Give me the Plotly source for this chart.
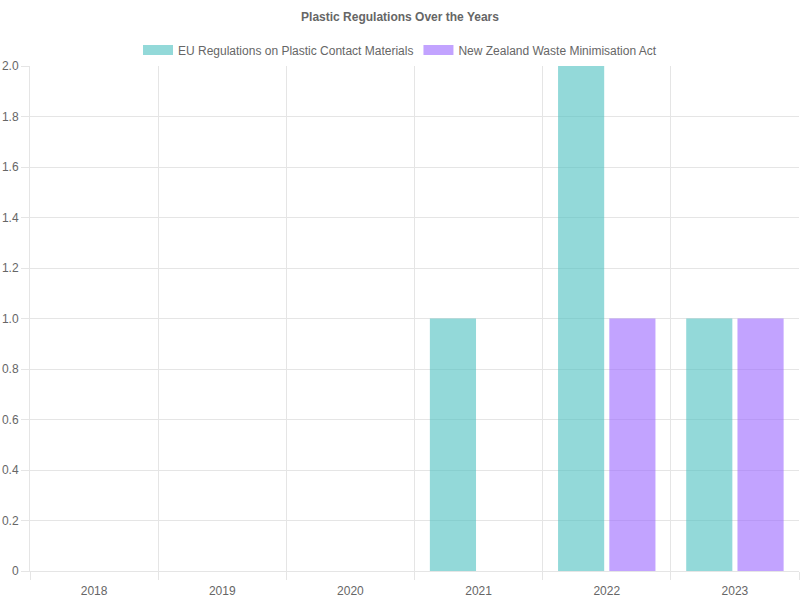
import plotly.graph_objects as go

years = ["2018", "2019", "2020", "2021", "2022", "2023"]
eu_values = [0, 0, 0, 1, 2, 1]
nz_values = [0, 0, 0, 0, 1, 1]
series_names = ["EU Regulations on Plastic Contact Materials", "New Zealand Waste Minimisation Act"]
y_tick_vals = [0, 0.2, 0.4, 0.6, 0.8, 1.0, 1.2, 1.4, 1.6, 1.8, 2.0]
y_tick_text = ["0", "0.2", "0.4", "0.6", "0.8", "1.0", "1.2", "1.4", "1.6", "1.8", "2.0"]

teal = "rgba(75,192,192,0.6)"
purple = "rgba(153,102,255,0.6)"
grid = "#e5e5e5"
font = "Liberation Sans, Arial, Helvetica, sans-serif"

fig = go.Figure()
for name, vals, col in [(series_names[0], eu_values, teal), (series_names[1], nz_values, purple)]:
    fig.add_trace(go.Bar(x=years, y=vals, name=name, legendgroup=name, showlegend=False,
                         marker=dict(color=col, line=dict(width=0))))
# legend swatches (wide boxes like the reference)
for name, col in [(series_names[0], teal), (series_names[1], purple)]:
    fig.add_trace(go.Scatter(x=[None], y=[None], mode="lines", name=name, legendgroup=name,
                             line=dict(color=col, width=12), showlegend=True))

fig.update_layout(
    width=800, height=600,
    paper_bgcolor="white", plot_bgcolor="white",
    margin=dict(l=30, r=1, t=66, b=29, autoexpand=False),
    barmode="group", bargap=0.2, bargroupgap=0.1,
    font=dict(family=font, size=12, color="#666"),
    title=dict(text="<b>Plastic Regulations Over the Years</b>", x=0.5, xref="container", xanchor="center",
               y=583/600, yanchor="middle", font=dict(size=12, color="#666", family=font)),
    legend=dict(orientation="h", x=0.5, xref="container", xanchor="center", y=550/600, yref="container",
                yanchor="middle", font=dict(size=12, color="#666"), traceorder="normal"),
    showlegend=True,
)
fig.update_xaxes(type="category", tickson="boundaries", showgrid=True, gridcolor=grid, gridwidth=1,
                 ticks="outside", ticklen=8, tickcolor=grid, showline=True, linecolor=grid, linewidth=1,
                 tickfont=dict(size=12, color="#666"), mirror=False, zeroline=False, ticklabelstandoff=9)
fig.update_yaxes(range=[0, 2], tickvals=y_tick_vals, ticktext=y_tick_text, showgrid=True, gridcolor=grid,
                 ticks="outside", ticklen=8, tickcolor=grid, showline=True, linecolor=grid, linewidth=1,
                 zeroline=False, tickfont=dict(size=12, color="#666"))

fig.write_html("out.html")
